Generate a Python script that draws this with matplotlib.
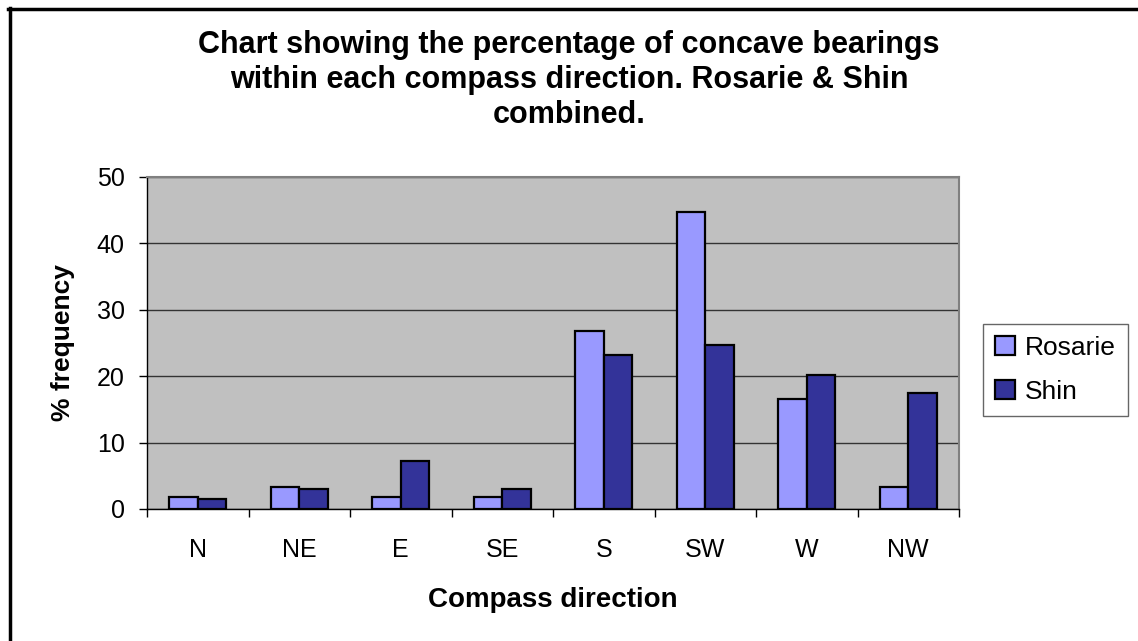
import matplotlib
matplotlib.use("Agg")
import matplotlib.pyplot as plt
import numpy as np

plt.rcParams['font.family'] = ['Liberation Sans', 'DejaVu Sans']

directions = ["N", "NE", "E", "SE", "S", "SW", "W", "NW"]
rosarie = [1.8, 3.3, 1.8, 1.8, 26.8, 44.8, 16.5, 3.3]
shin = [1.5, 3.0, 7.2, 3.0, 23.2, 24.7, 20.2, 17.5]
yticks = [0, 10, 20, 30, 40, 50]

W, H = 1138, 641
fig = plt.figure(figsize=(W / 100, H / 100), dpi=100)

# plot area in pixels: x 147..959, y 177..509
ax = fig.add_axes([147 / W, 1 - 509 / H, (959 - 147) / W, (509 - 177) / H])
ax.set_facecolor("#C0C0C0")

x = np.arange(len(directions))
bw = 0.28
b1 = ax.bar(x - bw / 2, rosarie, bw, color="#9999FF", edgecolor="black",
            linewidth=1.6, label="Rosarie", zorder=3)
b2 = ax.bar(x + bw / 2, shin, bw, color="#333399", edgecolor="black",
            linewidth=1.6, label="Shin", zorder=3)

ax.set_xlim(-0.5, len(directions) - 0.5)
ax.set_ylim(0, 50)
ax.set_yticks(yticks)
ax.yaxis.grid(True, color="#333333", linewidth=1.0, zorder=1)
ax.set_axisbelow(True)

ax.set_xticks(x)
ax.set_xticklabels(directions)
ax.set_xticks(np.arange(len(directions) + 1) - 0.5, minor=True)
ax.tick_params(axis="x", which="major", length=0, pad=21, labelsize=18)
ax.tick_params(axis="x", which="minor", length=6, width=1, direction="out")
ax.tick_params(axis="y", length=6, width=1, direction="out", pad=10, labelsize=18)

for s in ["left", "bottom"]:
    ax.spines[s].set_color("black")
    ax.spines[s].set_linewidth(1.0)
for s in ["top", "right"]:
    ax.spines[s].set_color("#808080")
    ax.spines[s].set_linewidth(1.5)

ax.set_xlabel("Compass direction", fontsize=20, fontweight="bold", labelpad=18)
ax.set_ylabel("% frequency", fontsize=19, fontweight="bold", labelpad=16)

fig.text(0.5, 1 - 80 / H,
         "Chart showing the percentage of concave bearings\n"
         "within each compass direction. Rosarie & Shin\n"
         "combined.",
         ha="center", va="center", fontsize=22, fontweight="bold",
         linespacing=1.22)

leg = fig.legend(handles=[b1, b2], labels=["Rosarie", "Shin"],
                 loc="upper left", bbox_to_anchor=(983 / W, 1 - 324 / H),
                 fontsize=19, frameon=True, fancybox=False, shadow=False,
                 handlelength=0.75, handleheight=0.75, handletextpad=0.4,
                 labelspacing=0.75, borderpad=0.45, borderaxespad=0)
leg.get_frame().set_edgecolor("#404040")
leg.get_frame().set_linewidth(1.0)

# outer chart border (left and top visible)
fig.add_artist(plt.Line2D([9.5 / W, 9.5 / W], [0, 1 - 8 / H], color="black",
                          linewidth=2.5, transform=fig.transFigure))
fig.add_artist(plt.Line2D([8 / W, 1], [1 - 8.5 / H, 1 - 8.5 / H], color="black",
                          linewidth=2.5, transform=fig.transFigure))

fig.savefig("out.png", dpi=100)
